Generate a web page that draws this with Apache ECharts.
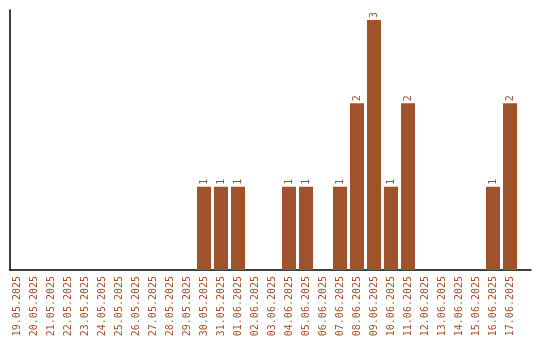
<!DOCTYPE html>
<html><head><meta charset="utf-8">
<script src="https://cdn.jsdelivr.net/npm/echarts@6/dist/echarts.min.js"></script>
<style>html,body{margin:0;padding:0;background:#fff}#c{width:540px;height:340px}</style>
</head><body><div id="c"></div>
<script>
const categories = ["19.05.2025","20.05.2025","21.05.2025","22.05.2025","23.05.2025","24.05.2025","25.05.2025","26.05.2025","27.05.2025","28.05.2025","29.05.2025","30.05.2025","31.05.2025","01.06.2025","02.06.2025","03.06.2025","04.06.2025","05.06.2025","06.06.2025","07.06.2025","08.06.2025","09.06.2025","10.06.2025","11.06.2025","12.06.2025","13.06.2025","14.06.2025","15.06.2025","16.06.2025","17.06.2025"];
const counts = [0,0,0,0,0,0,0,0,0,0,0,1,1,1,0,0,1,1,0,1,2,3,1,2,0,0,0,0,1,2];

const brown = '#a0522d';
const chart = echarts.init(document.getElementById('c'));
chart.setOption({
  animation: false,
  grid: [
    {left: 8.5, width: 510, top: 10, height: 260},
    {left: 10, width: 521, top: 10, height: 260}
  ],
  xAxis: [
    {type: 'category', data: categories, gridIndex: 0,
     axisLine: {show: false}, axisTick: {show: false},
     axisLabel: {rotate: 90, interval: 0, margin: 6, color: brown,
       fontFamily: 'DejaVu Sans Mono', fontSize: 10}},
    {type: 'value', gridIndex: 1, min: 0, max: 1,
     axisLine: {show: true, lineStyle: {color: '#000', width: 1.5}},
     axisTick: {show: false}, axisLabel: {show: false}, splitLine: {show: false}}
  ],
  yAxis: [
    {type: 'value', gridIndex: 0, min: 0, max: 3.12,
     axisLine: {show: false}, axisTick: {show: false}, axisLabel: {show: false}, splitLine: {show: false}},
    {type: 'value', gridIndex: 1, min: 0, max: 1,
     axisLine: {show: true, lineStyle: {color: '#000', width: 1.5}},
     axisTick: {show: false}, axisLabel: {show: false}, splitLine: {show: false}}
  ],
  series: [{
    type: 'bar', xAxisIndex: 0, yAxisIndex: 0, data: counts, barWidth: 14,
    itemStyle: {color: brown},
    label: {show: true, position: 'top', rotate: 90, align: 'left', verticalAlign: 'middle',
      distance: 2, color: brown, fontFamily: 'DejaVu Sans Mono', fontSize: 10,
      formatter: p => p.value ? String(p.value) : ''}
  }]
});
</script></body></html>
